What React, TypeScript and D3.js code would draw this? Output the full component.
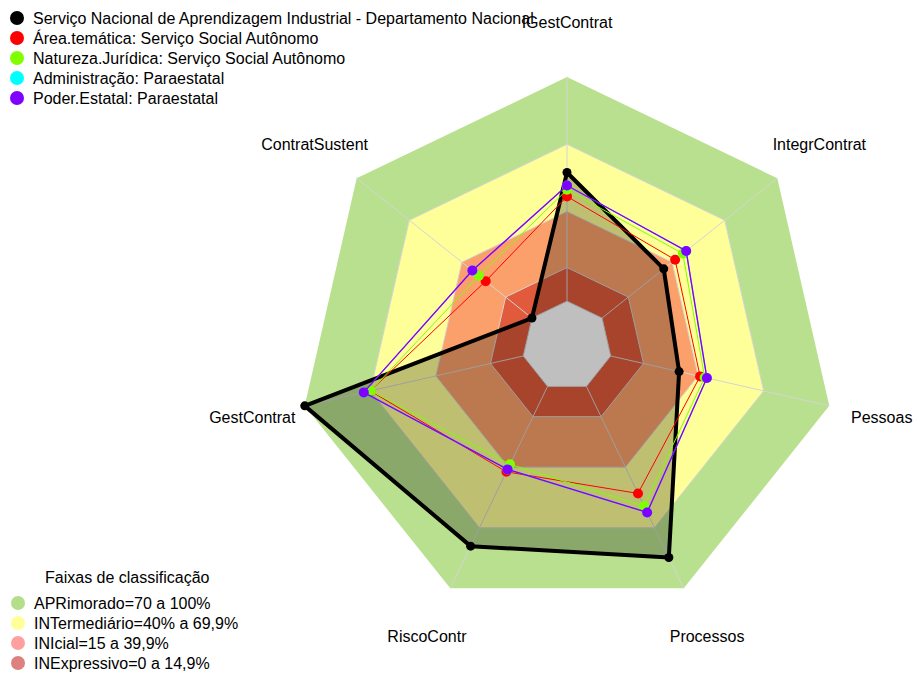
import React, { useEffect, useRef } from "react";
import * as d3 from "d3";

// eixos do radar (sentido horário a partir do topo)
const axes = [
  "IGestContrat",
  "IntegrContrat",
  "Pessoas",
  "Processos",
  "RiscoContr",
  "GestContrat",
  "ContratSustent",
];

const seriesNames = [
  "Serviço Nacional de Aprendizagem Industrial - Departamento Nacional",
  "Área.temática: Serviço Social Autônomo",
  "Natureza.Jurídica: Serviço Social Autônomo",
  "Administração: Paraestatal",
  "Poder.Estatal: Paraestatal",
];
const seriesColors = ["#000000", "#FF0000", "#80FF00", "#00FFFF", "#8000FF"];

const senaiDN = [0.574, 0.352, 0.313, 0.847, 0.791, 1.0, 0.0];
const areaTematica = [0.467, 0.417, 0.409, 0.53, 0.423, 0.7, 0.264];
const naturezaJuridica = [0.497, 0.461, 0.43, 0.593, 0.386, 0.698, 0.303];
const administracao = [0.516, 0.48, 0.44, 0.624, 0.411, 0.73, 0.34];
const poderEstatal = [0.516, 0.48, 0.44, 0.624, 0.411, 0.73, 0.34];

const bandBreaks = [0, 0.15, 0.4, 0.7, 1.0];
const bandFills = ["#E05A3B", "#FBA06A", "#FFFF99", "#B9E08E"];
const bandLabels = [
  "APRimorado=70 a 100%",
  "INTermediário=40% a 69,9%",
  "INIcial=15 a 39,9%",
  "INExpressivo=0 a 14,9%",
];
const bandLegendColors = ["#B5DE8A", "#FFFF99", "#FFA0A0", "#DD8080"];

export default function App() {
  const ref = useRef<SVGSVGElement>(null);

  useEffect(() => {
    const svg = d3.select(ref.current);
    svg.selectAll("*").remove();

    const cx = 567, cy = 346, R = 269;
    const font = "Liberation Sans, Arial, sans-serif";
    const fs = 16;
    const series = [senaiDN, areaTematica, naturezaJuridica, administracao, poderEstatal];

    const ang = d3.scaleLinear().domain([0, axes.length]).range([0, 2 * Math.PI]);
    const rad = d3.scaleLinear().domain([0, 1]).range([R / 6, R]);

    const pt = (i: number, r: number): [number, number] => [
      cx + r * Math.sin(ang(i)),
      cy - r * Math.cos(ang(i)),
    ];
    const ring = (r: number) => axes.map((_, i) => pt(i, r));
    const poly = d3.line().curve(d3.curveLinearClosed);

    const g = svg.append("g");

    // faixas de classificação, de fora para dentro
    for (let b = bandFills.length - 1; b >= 0; b--) {
      g.append("path").attr("d", poly(ring(rad(bandBreaks[b + 1])))).attr("fill", bandFills[b]);
    }
    g.append("path").attr("d", poly(ring(rad(0)))).attr("fill", "#ffffff");

    // grade
    bandBreaks.slice(0, 4).forEach((v) => {
      g.append("path")
        .attr("d", poly(ring(rad(v))))
        .attr("fill", "none")
        .attr("stroke", "#d4d4d4")
        .attr("stroke-width", 1);
    });
    axes.forEach((_, i) => {
      const a = pt(i, rad(0)), b = pt(i, R);
      g.append("line")
        .attr("x1", a[0]).attr("y1", a[1]).attr("x2", b[0]).attr("y2", b[1])
        .attr("stroke", "#d4d4d4")
        .attr("stroke-width", 1);
    });

    // área da primeira série
    g.append("path")
      .attr("d", poly(senaiDN.map((v, i) => pt(i, rad(v)))))
      .attr("fill", "rgba(0,0,0,0.25)");

    series.forEach((vals, s) => {
      const pts = vals.map((v, i) => pt(i, rad(v)));
      g.append("path")
        .attr("d", poly(pts))
        .attr("fill", "none")
        .attr("stroke", seriesColors[s])
        .attr("stroke-width", s === 0 ? 4 : s === 4 ? 1.4 : 1)
        .attr("stroke-linejoin", "round");
      g.selectAll(null)
        .data(pts)
        .enter()
        .append("circle")
        .attr("cx", (d) => d[0])
        .attr("cy", (d) => d[1])
        .attr("r", s === 0 ? 4.5 : 5)
        .attr("fill", seriesColors[s]);
    });

    // rótulos dos eixos
    axes.forEach((name, i) => {
      const p = pt(i, R * 1.2);
      svg.append("text")
        .attr("x", p[0])
        .attr("y", p[1] + 5)
        .attr("text-anchor", "middle")
        .attr("font-family", font)
        .attr("font-size", fs)
        .text(name);
    });

    // legenda das séries
    seriesNames.forEach((name, s) => {
      const y = 18 + s * 20;
      svg.append("circle").attr("cx", 17).attr("cy", y).attr("r", 7).attr("fill", seriesColors[s]);
      svg.append("text")
        .attr("x", 33).attr("y", y + 5.5)
        .attr("font-family", font).attr("font-size", fs)
        .text(name);
    });

    // legenda das faixas
    svg.append("text")
      .attr("x", 45).attr("y", 582.5)
      .attr("font-family", font).attr("font-size", fs)
      .text("Faixas de classificação");
    bandLabels.forEach((name, b) => {
      const y = 603 + b * 20;
      svg.append("circle").attr("cx", 18).attr("cy", y).attr("r", 7).attr("fill", bandLegendColors[b]);
      svg.append("text")
        .attr("x", 34).attr("y", y + 5.5)
        .attr("font-family", font).attr("font-size", fs)
        .text(name);
    });
  }, []);

  return (
    <svg
      ref={ref}
      width={916}
      height={673}
      style={{ position: "absolute", left: 0, top: 0, background: "#fff" }}
    />
  );
}
